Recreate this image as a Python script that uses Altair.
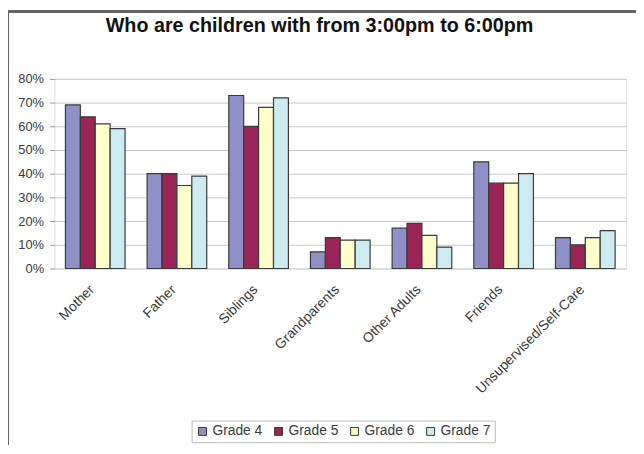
import altair as alt
import pandas as pd

categories = ["Mother", "Father", "Siblings", "Grandparents", "Other Adults", "Friends", "Unsupervised/Self-Care"]
grades = ["Grade 4", "Grade 5", "Grade 6", "Grade 7"]
grade4 = [0.69, 0.40, 0.73, 0.07, 0.17, 0.45, 0.13]
grade5 = [0.64, 0.40, 0.60, 0.13, 0.19, 0.36, 0.10]
grade6 = [0.61, 0.35, 0.68, 0.12, 0.14, 0.36, 0.13]
grade7 = [0.59, 0.39, 0.72, 0.12, 0.09, 0.40, 0.16]
colors = ["#9090C8", "#9A2456", "#FFFFCC", "#CCECF2"]

rows = []
for g, vals in zip(grades, [grade4, grade5, grade6, grade7]):
    for c, v in zip(categories, vals):
        rows.append({"category": c, "grade": g, "value": v})
df = pd.DataFrame(rows)

FONT = "Liberation Sans"

bars = alt.Chart(df).mark_bar(stroke="#3a3a3a", strokeWidth=1.2).encode(
    x=alt.X("category:N", sort=categories, title=None,
            scale=alt.Scale(paddingInner=0.27, paddingOuter=0.135),
            axis=alt.Axis(labelAngle=-45, labelAlign="right", labelBaseline="top",
                          labelPadding=14, labelOffset=-8, ticks=False, domain=False,
                          labelFont=FONT, labelFontSize=14, labelColor="#3a3a3a")),
    xOffset=alt.XOffset("grade:N", sort=grades, scale=alt.Scale(paddingInner=0, paddingOuter=0)),
    y=alt.Y("value:Q", title=None,
            scale=alt.Scale(domain=[0, 0.8], nice=False),
            axis=alt.Axis(format=".0%", values=[0, 0.1, 0.2, 0.3, 0.4, 0.5, 0.6, 0.7, 0.8],
                          tickSize=5, tickColor="#999999", domain=False,
                          gridColor="#C8C8C8", labelPadding=6,
                          labelFont=FONT, labelFontSize=13, labelColor="#3a3a3a")),
    color=alt.Color("grade:N", sort=grades,
                    scale=alt.Scale(domain=grades, range=colors),
                    legend=alt.Legend(title=None, orient="none", direction="horizontal",
                                      legendX=139, legendY=346, symbolType="square",
                                      symbolSize=64, symbolStrokeColor="#333333",
                                      symbolStrokeWidth=1, labelFont=FONT, labelFontSize=14,
                                      labelColor="#3a3a3a", columnPadding=9, labelOffset=3,
                                      strokeColor="#BBBBBB", padding=4)),
)

frame_top = alt.Chart(df).mark_rule(color="#666666", strokeWidth=2).encode(
    x=alt.value(-47), x2=alt.value(600), y=alt.value(-68)
)
frame_left = alt.Chart(df).mark_rule(color="#666666", strokeWidth=2).encode(
    x=alt.value(-47), y=alt.value(-69), y2=alt.value(370)
)

chart = alt.layer(bars, frame_top, frame_left).properties(
    width=579, height=192,
    autosize=alt.AutoSizeParams(type="none"),
    padding={"left": 47, "top": 69, "right": 10, "bottom": 177},
    title=alt.TitleParams("Who are children with from 3:00pm to 6:00pm",
                          font=FONT, fontSize=20, fontWeight="bold", color="#111111",
                          anchor="middle", frame="group", offset=0, dy=27, dx=-21),
).configure_view(stroke="#8A8A8A", strokeWidth=1).configure(background="white")

chart.save("out.html", embed_options={"renderer": "svg", "actions": False})
